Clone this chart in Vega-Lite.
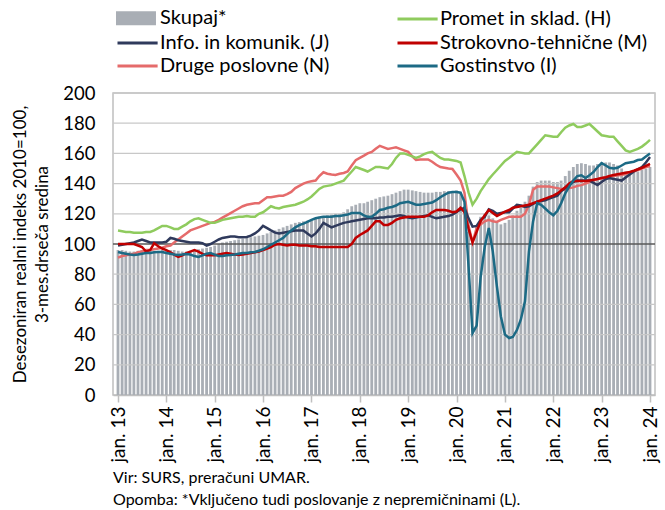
{
"$schema":"https://vega.github.io/schema/vega-lite/v6.json",
"width":542,"height":302,
"autosize":{"type":"none"},
"padding":{"left":113,"top":93,"right":10,"bottom":115},
"background":"white",
"config":{"font":"Lato","view":{"stroke":"#bfbfbf","strokeWidth":1.5}},
"title":{"text":["Vir: SURS, preračuni UMAR.","Opomba: *Vključeno tudi poslovanje z nepremičninami (L)."],"orient":"bottom","anchor":"start","fontSize":16,"fontWeight":"normal","color":"#000000","offset":8,"lineHeight":22,"frame":"group"},
"datasets":{
"mreza":[{"v":20},{"v":40},{"v":60},{"v":80},{"v":120},{"v":140},{"v":160},{"v":180},{"v":200}],
"skupaj":[
{"t":"2013-01","v":96},{"t":"2013-02","v":96},{"t":"2013-03","v":95.5},{"t":"2013-04","v":95},{"t":"2013-05","v":95},{"t":"2013-06","v":95.5},{"t":"2013-07","v":96},{"t":"2013-08","v":96},{"t":"2013-09","v":95.5},{"t":"2013-10","v":95},{"t":"2013-11","v":95.5},{"t":"2013-12","v":96},
{"t":"2014-01","v":96},{"t":"2014-02","v":96},{"t":"2014-03","v":96},{"t":"2014-04","v":95.5},{"t":"2014-05","v":95},{"t":"2014-06","v":95},{"t":"2014-07","v":95.5},{"t":"2014-08","v":96},{"t":"2014-09","v":96.5},{"t":"2014-10","v":97},{"t":"2014-11","v":97.5},{"t":"2014-12","v":98},
{"t":"2015-01","v":99},{"t":"2015-02","v":100},{"t":"2015-03","v":101},{"t":"2015-04","v":101.5},{"t":"2015-05","v":102},{"t":"2015-06","v":102.5},{"t":"2015-07","v":103},{"t":"2015-08","v":103.5},{"t":"2015-09","v":104},{"t":"2015-10","v":104.5},{"t":"2015-11","v":105},{"t":"2015-12","v":105.5},
{"t":"2016-01","v":106},{"t":"2016-02","v":107},{"t":"2016-03","v":108},{"t":"2016-04","v":109},{"t":"2016-05","v":110},{"t":"2016-06","v":111},{"t":"2016-07","v":112},{"t":"2016-08","v":113},{"t":"2016-09","v":114},{"t":"2016-10","v":114.5},{"t":"2016-11","v":115},{"t":"2016-12","v":115.5},
{"t":"2017-01","v":116},{"t":"2017-02","v":117},{"t":"2017-03","v":118},{"t":"2017-04","v":118.5},{"t":"2017-05","v":119},{"t":"2017-06","v":119.5},{"t":"2017-07","v":120},{"t":"2017-08","v":120},{"t":"2017-09","v":121},{"t":"2017-10","v":123},{"t":"2017-11","v":125},{"t":"2017-12","v":126},
{"t":"2018-01","v":127},{"t":"2018-02","v":127},{"t":"2018-03","v":128},{"t":"2018-04","v":129},{"t":"2018-05","v":130},{"t":"2018-06","v":131},{"t":"2018-07","v":131.5},{"t":"2018-08","v":132},{"t":"2018-09","v":133},{"t":"2018-10","v":134},{"t":"2018-11","v":135},{"t":"2018-12","v":136},
{"t":"2019-01","v":136},{"t":"2019-02","v":135.5},{"t":"2019-03","v":135},{"t":"2019-04","v":134.5},{"t":"2019-05","v":134},{"t":"2019-06","v":134},{"t":"2019-07","v":134},{"t":"2019-08","v":134.5},{"t":"2019-09","v":134.5},{"t":"2019-10","v":135},{"t":"2019-11","v":135},{"t":"2019-12","v":135},
{"t":"2020-01","v":135.5},{"t":"2020-02","v":134},{"t":"2020-03","v":125},{"t":"2020-04","v":108},{"t":"2020-05","v":104},{"t":"2020-06","v":112},{"t":"2020-07","v":118},{"t":"2020-08","v":120},{"t":"2020-09","v":119},{"t":"2020-10","v":117},{"t":"2020-11","v":114},{"t":"2020-12","v":113},
{"t":"2021-01","v":114},{"t":"2021-02","v":116},{"t":"2021-03","v":119},{"t":"2021-04","v":122},{"t":"2021-05","v":124},{"t":"2021-06","v":128},{"t":"2021-07","v":132},{"t":"2021-08","v":138},{"t":"2021-09","v":141},{"t":"2021-10","v":142},{"t":"2021-11","v":142},{"t":"2021-12","v":142},
{"t":"2022-01","v":141},{"t":"2022-02","v":141},{"t":"2022-03","v":142},{"t":"2022-04","v":145},{"t":"2022-05","v":148.5},{"t":"2022-06","v":151},{"t":"2022-07","v":153},{"t":"2022-08","v":153.5},{"t":"2022-09","v":153},{"t":"2022-10","v":152},{"t":"2022-11","v":152},{"t":"2022-12","v":153},
{"t":"2023-01","v":154},{"t":"2023-02","v":154},{"t":"2023-03","v":154},{"t":"2023-04","v":153},{"t":"2023-05","v":152},{"t":"2023-06","v":150},{"t":"2023-07","v":148},{"t":"2023-08","v":148},{"t":"2023-09","v":147.5},{"t":"2023-10","v":148},{"t":"2023-11","v":149},{"t":"2023-12","v":150},
{"t":"2024-01","v":151}
],
"panoge":[
{"t":"2013-01","s":"N","v":91},{"t":"2013-02","s":"N","v":92},{"t":"2013-03","s":"N","v":92.5},{"t":"2013-04","s":"N","v":93},{"t":"2013-05","s":"N","v":93.5},{"t":"2013-06","s":"N","v":94.5},{"t":"2013-07","s":"N","v":95},{"t":"2013-08","s":"N","v":96},{"t":"2013-09","s":"N","v":96},{"t":"2013-10","s":"N","v":96.5},{"t":"2013-11","s":"N","v":97},{"t":"2013-12","s":"N","v":97.5},
{"t":"2014-01","s":"N","v":98.5},{"t":"2014-02","s":"N","v":99},{"t":"2014-03","s":"N","v":101},{"t":"2014-04","s":"N","v":103},{"t":"2014-05","s":"N","v":105},{"t":"2014-06","s":"N","v":107},{"t":"2014-07","s":"N","v":109},{"t":"2014-08","s":"N","v":110},{"t":"2014-09","s":"N","v":111},{"t":"2014-10","s":"N","v":112},{"t":"2014-11","s":"N","v":113},{"t":"2014-12","s":"N","v":114},
{"t":"2015-01","s":"N","v":114.6},{"t":"2015-02","s":"N","v":116},{"t":"2015-03","s":"N","v":117.5},{"t":"2015-04","s":"N","v":119},{"t":"2015-05","s":"N","v":120.5},{"t":"2015-06","s":"N","v":122},{"t":"2015-07","s":"N","v":123.5},{"t":"2015-08","s":"N","v":125},{"t":"2015-09","s":"N","v":126},{"t":"2015-10","s":"N","v":126.5},{"t":"2015-11","s":"N","v":127},{"t":"2015-12","s":"N","v":127},
{"t":"2016-01","s":"N","v":129},{"t":"2016-02","s":"N","v":131},{"t":"2016-03","s":"N","v":131},{"t":"2016-04","s":"N","v":131.5},{"t":"2016-05","s":"N","v":132},{"t":"2016-06","s":"N","v":132},{"t":"2016-07","s":"N","v":133},{"t":"2016-08","s":"N","v":134.5},{"t":"2016-09","s":"N","v":137},{"t":"2016-10","s":"N","v":138.5},{"t":"2016-11","s":"N","v":140},{"t":"2016-12","s":"N","v":141},
{"t":"2017-01","s":"N","v":141.5},{"t":"2017-02","s":"N","v":142},{"t":"2017-03","s":"N","v":145},{"t":"2017-04","s":"N","v":147.5},{"t":"2017-05","s":"N","v":146.5},{"t":"2017-06","s":"N","v":146},{"t":"2017-07","s":"N","v":145.7},{"t":"2017-08","s":"N","v":146.5},{"t":"2017-09","s":"N","v":147},{"t":"2017-10","s":"N","v":148},{"t":"2017-11","s":"N","v":152},{"t":"2017-12","s":"N","v":155.5},
{"t":"2018-01","s":"N","v":157},{"t":"2018-02","s":"N","v":158.5},{"t":"2018-03","s":"N","v":160},{"t":"2018-04","s":"N","v":161},{"t":"2018-05","s":"N","v":163},{"t":"2018-06","s":"N","v":165},{"t":"2018-07","s":"N","v":164},{"t":"2018-08","s":"N","v":163},{"t":"2018-09","s":"N","v":163.5},{"t":"2018-10","s":"N","v":164},{"t":"2018-11","s":"N","v":163},{"t":"2018-12","s":"N","v":162},
{"t":"2019-01","s":"N","v":161},{"t":"2019-02","s":"N","v":158},{"t":"2019-03","s":"N","v":155.6},{"t":"2019-04","s":"N","v":156},{"t":"2019-05","s":"N","v":156},{"t":"2019-06","s":"N","v":156},{"t":"2019-07","s":"N","v":154.5},{"t":"2019-08","s":"N","v":152.5},{"t":"2019-09","s":"N","v":151},{"t":"2019-10","s":"N","v":150.5},{"t":"2019-11","s":"N","v":150},{"t":"2019-12","s":"N","v":149.7},
{"t":"2020-01","s":"N","v":146},{"t":"2020-02","s":"N","v":142},{"t":"2020-03","s":"N","v":134},{"t":"2020-04","s":"N","v":112},{"t":"2020-05","s":"N","v":101},{"t":"2020-06","s":"N","v":110.6},{"t":"2020-07","s":"N","v":113},{"t":"2020-08","s":"N","v":115},{"t":"2020-09","s":"N","v":116},{"t":"2020-10","s":"N","v":115},{"t":"2020-11","s":"N","v":114.6},{"t":"2020-12","s":"N","v":116},
{"t":"2021-01","s":"N","v":117},{"t":"2021-02","s":"N","v":118},{"t":"2021-03","s":"N","v":118},{"t":"2021-04","s":"N","v":118},{"t":"2021-05","s":"N","v":118},{"t":"2021-06","s":"N","v":120},{"t":"2021-07","s":"N","v":126},{"t":"2021-08","s":"N","v":136},{"t":"2021-09","s":"N","v":138},{"t":"2021-10","s":"N","v":138},{"t":"2021-11","s":"N","v":138},{"t":"2021-12","s":"N","v":138},
{"t":"2022-01","s":"N","v":137.5},{"t":"2022-02","s":"N","v":137},{"t":"2022-03","s":"N","v":136.5},{"t":"2022-04","s":"N","v":136},{"t":"2022-05","s":"N","v":137},{"t":"2022-06","s":"N","v":137.5},{"t":"2022-07","s":"N","v":138.5},{"t":"2022-08","s":"N","v":139},{"t":"2022-09","s":"N","v":140},{"t":"2022-10","s":"N","v":141},{"t":"2022-11","s":"N","v":142},{"t":"2022-12","s":"N","v":143},
{"t":"2023-01","s":"N","v":143.5},{"t":"2023-02","s":"N","v":144},{"t":"2023-03","s":"N","v":144.5},{"t":"2023-04","s":"N","v":145},{"t":"2023-05","s":"N","v":145.5},{"t":"2023-06","s":"N","v":145.7},{"t":"2023-07","s":"N","v":146.5},{"t":"2023-08","s":"N","v":147},{"t":"2023-09","s":"N","v":148},{"t":"2023-10","s":"N","v":149},{"t":"2023-11","s":"N","v":150},{"t":"2023-12","s":"N","v":151},
{"t":"2024-01","s":"N","v":151.7},
{"t":"2013-01","s":"H","v":109},{"t":"2013-02","s":"H","v":108.5},{"t":"2013-03","s":"H","v":108},{"t":"2013-04","s":"H","v":108},{"t":"2013-05","s":"H","v":107.5},{"t":"2013-06","s":"H","v":107.5},{"t":"2013-07","s":"H","v":107.5},{"t":"2013-08","s":"H","v":108},{"t":"2013-09","s":"H","v":108},{"t":"2013-10","s":"H","v":109},{"t":"2013-11","s":"H","v":110.5},{"t":"2013-12","s":"H","v":112},
{"t":"2014-01","s":"H","v":112},{"t":"2014-02","s":"H","v":111},{"t":"2014-03","s":"H","v":110},{"t":"2014-04","s":"H","v":110},{"t":"2014-05","s":"H","v":111.5},{"t":"2014-06","s":"H","v":113},{"t":"2014-07","s":"H","v":115},{"t":"2014-08","s":"H","v":116.5},{"t":"2014-09","s":"H","v":117},{"t":"2014-10","s":"H","v":116},{"t":"2014-11","s":"H","v":115},{"t":"2014-12","s":"H","v":114},
{"t":"2015-01","s":"H","v":114},{"t":"2015-02","s":"H","v":115},{"t":"2015-03","s":"H","v":116},{"t":"2015-04","s":"H","v":116.5},{"t":"2015-05","s":"H","v":117},{"t":"2015-06","s":"H","v":117.5},{"t":"2015-07","s":"H","v":118},{"t":"2015-08","s":"H","v":118},{"t":"2015-09","s":"H","v":118.5},{"t":"2015-10","s":"H","v":118},{"t":"2015-11","s":"H","v":118},{"t":"2015-12","s":"H","v":120},
{"t":"2016-01","s":"H","v":121},{"t":"2016-02","s":"H","v":123},{"t":"2016-03","s":"H","v":125},{"t":"2016-04","s":"H","v":124},{"t":"2016-05","s":"H","v":123.5},{"t":"2016-06","s":"H","v":124.5},{"t":"2016-07","s":"H","v":125},{"t":"2016-08","s":"H","v":125.5},{"t":"2016-09","s":"H","v":126},{"t":"2016-10","s":"H","v":127},{"t":"2016-11","s":"H","v":128},{"t":"2016-12","s":"H","v":129.5},
{"t":"2017-01","s":"H","v":131.5},{"t":"2017-02","s":"H","v":134},{"t":"2017-03","s":"H","v":136.5},{"t":"2017-04","s":"H","v":138},{"t":"2017-05","s":"H","v":138.5},{"t":"2017-06","s":"H","v":139},{"t":"2017-07","s":"H","v":140},{"t":"2017-08","s":"H","v":141},{"t":"2017-09","s":"H","v":142},{"t":"2017-10","s":"H","v":145},{"t":"2017-11","s":"H","v":148},{"t":"2017-12","s":"H","v":151},
{"t":"2018-01","s":"H","v":150},{"t":"2018-02","s":"H","v":149},{"t":"2018-03","s":"H","v":148},{"t":"2018-04","s":"H","v":149.5},{"t":"2018-05","s":"H","v":151},{"t":"2018-06","s":"H","v":151},{"t":"2018-07","s":"H","v":150.5},{"t":"2018-08","s":"H","v":150},{"t":"2018-09","s":"H","v":153},{"t":"2018-10","s":"H","v":157},{"t":"2018-11","s":"H","v":160},{"t":"2018-12","s":"H","v":160},
{"t":"2019-01","s":"H","v":159},{"t":"2019-02","s":"H","v":158},{"t":"2019-03","s":"H","v":157},{"t":"2019-04","s":"H","v":158},{"t":"2019-05","s":"H","v":159.5},{"t":"2019-06","s":"H","v":160.5},{"t":"2019-07","s":"H","v":161},{"t":"2019-08","s":"H","v":159},{"t":"2019-09","s":"H","v":157},{"t":"2019-10","s":"H","v":156},{"t":"2019-11","s":"H","v":156},{"t":"2019-12","s":"H","v":155.5},
{"t":"2020-01","s":"H","v":155},{"t":"2020-02","s":"H","v":154},{"t":"2020-03","s":"H","v":145},{"t":"2020-04","s":"H","v":134},{"t":"2020-05","s":"H","v":126},{"t":"2020-06","s":"H","v":130},{"t":"2020-07","s":"H","v":135},{"t":"2020-08","s":"H","v":139},{"t":"2020-09","s":"H","v":143},{"t":"2020-10","s":"H","v":146},{"t":"2020-11","s":"H","v":149},{"t":"2020-12","s":"H","v":152},
{"t":"2021-01","s":"H","v":155},{"t":"2021-02","s":"H","v":157},{"t":"2021-03","s":"H","v":159},{"t":"2021-04","s":"H","v":161},{"t":"2021-05","s":"H","v":160.5},{"t":"2021-06","s":"H","v":160},{"t":"2021-07","s":"H","v":160},{"t":"2021-08","s":"H","v":163},{"t":"2021-09","s":"H","v":166},{"t":"2021-10","s":"H","v":169},{"t":"2021-11","s":"H","v":172},{"t":"2021-12","s":"H","v":171.5},
{"t":"2022-01","s":"H","v":171},{"t":"2022-02","s":"H","v":171},{"t":"2022-03","s":"H","v":174},{"t":"2022-04","s":"H","v":177},{"t":"2022-05","s":"H","v":178.5},{"t":"2022-06","s":"H","v":179.5},{"t":"2022-07","s":"H","v":177.5},{"t":"2022-08","s":"H","v":177.5},{"t":"2022-09","s":"H","v":178.5},{"t":"2022-10","s":"H","v":179.5},{"t":"2022-11","s":"H","v":177},{"t":"2022-12","s":"H","v":174.5},
{"t":"2023-01","s":"H","v":172},{"t":"2023-02","s":"H","v":171.5},{"t":"2023-03","s":"H","v":171},{"t":"2023-04","s":"H","v":171},{"t":"2023-05","s":"H","v":168},{"t":"2023-06","s":"H","v":165},{"t":"2023-07","s":"H","v":162},{"t":"2023-08","s":"H","v":161},{"t":"2023-09","s":"H","v":162},{"t":"2023-10","s":"H","v":163},{"t":"2023-11","s":"H","v":164.5},{"t":"2023-12","s":"H","v":166.5},
{"t":"2024-01","s":"H","v":169},
{"t":"2013-01","s":"J","v":99},{"t":"2013-02","s":"J","v":99.5},{"t":"2013-03","s":"J","v":100},{"t":"2013-04","s":"J","v":100.5},{"t":"2013-05","s":"J","v":101},{"t":"2013-06","s":"J","v":102},{"t":"2013-07","s":"J","v":103},{"t":"2013-08","s":"J","v":102},{"t":"2013-09","s":"J","v":101},{"t":"2013-10","s":"J","v":101},{"t":"2013-11","s":"J","v":101},{"t":"2013-12","s":"J","v":101},
{"t":"2014-01","s":"J","v":101.5},{"t":"2014-02","s":"J","v":104},{"t":"2014-03","s":"J","v":103.5},{"t":"2014-04","s":"J","v":102.5},{"t":"2014-05","s":"J","v":102},{"t":"2014-06","s":"J","v":101.5},{"t":"2014-07","s":"J","v":101},{"t":"2014-08","s":"J","v":101},{"t":"2014-09","s":"J","v":101},{"t":"2014-10","s":"J","v":100.5},{"t":"2014-11","s":"J","v":99},{"t":"2014-12","s":"J","v":100},
{"t":"2015-01","s":"J","v":101.5},{"t":"2015-02","s":"J","v":103},{"t":"2015-03","s":"J","v":104},{"t":"2015-04","s":"J","v":104.5},{"t":"2015-05","s":"J","v":105},{"t":"2015-06","s":"J","v":105},{"t":"2015-07","s":"J","v":104.5},{"t":"2015-08","s":"J","v":104.5},{"t":"2015-09","s":"J","v":104.6},{"t":"2015-10","s":"J","v":105.5},{"t":"2015-11","s":"J","v":107},{"t":"2015-12","s":"J","v":109},
{"t":"2016-01","s":"J","v":112},{"t":"2016-02","s":"J","v":110.5},{"t":"2016-03","s":"J","v":109},{"t":"2016-04","s":"J","v":107.5},{"t":"2016-05","s":"J","v":107},{"t":"2016-06","s":"J","v":107.5},{"t":"2016-07","s":"J","v":108},{"t":"2016-08","s":"J","v":108.5},{"t":"2016-09","s":"J","v":109},{"t":"2016-10","s":"J","v":109},{"t":"2016-11","s":"J","v":109},{"t":"2016-12","s":"J","v":107},
{"t":"2017-01","s":"J","v":105},{"t":"2017-02","s":"J","v":107},{"t":"2017-03","s":"J","v":110},{"t":"2017-04","s":"J","v":114},{"t":"2017-05","s":"J","v":112.5},{"t":"2017-06","s":"J","v":111},{"t":"2017-07","s":"J","v":112},{"t":"2017-08","s":"J","v":113},{"t":"2017-09","s":"J","v":114},{"t":"2017-10","s":"J","v":114.5},{"t":"2017-11","s":"J","v":115},{"t":"2017-12","s":"J","v":115.5},
{"t":"2018-01","s":"J","v":116},{"t":"2018-02","s":"J","v":116.5},{"t":"2018-03","s":"J","v":117},{"t":"2018-04","s":"J","v":117},{"t":"2018-05","s":"J","v":117},{"t":"2018-06","s":"J","v":117.5},{"t":"2018-07","s":"J","v":117.5},{"t":"2018-08","s":"J","v":118},{"t":"2018-09","s":"J","v":118},{"t":"2018-10","s":"J","v":118.5},{"t":"2018-11","s":"J","v":119},{"t":"2018-12","s":"J","v":118.5},
{"t":"2019-01","s":"J","v":117.5},{"t":"2019-02","s":"J","v":117},{"t":"2019-03","s":"J","v":117.5},{"t":"2019-04","s":"J","v":118},{"t":"2019-05","s":"J","v":118.5},{"t":"2019-06","s":"J","v":119},{"t":"2019-07","s":"J","v":118},{"t":"2019-08","s":"J","v":117},{"t":"2019-09","s":"J","v":117.5},{"t":"2019-10","s":"J","v":118},{"t":"2019-11","s":"J","v":118.5},{"t":"2019-12","s":"J","v":119.5},
{"t":"2020-01","s":"J","v":121},{"t":"2020-02","s":"J","v":123},{"t":"2020-03","s":"J","v":124},{"t":"2020-04","s":"J","v":117},{"t":"2020-05","s":"J","v":111.5},{"t":"2020-06","s":"J","v":112},{"t":"2020-07","s":"J","v":116},{"t":"2020-08","s":"J","v":118},{"t":"2020-09","s":"J","v":123},{"t":"2020-10","s":"J","v":122},{"t":"2020-11","s":"J","v":120},{"t":"2020-12","s":"J","v":120.5},
{"t":"2021-01","s":"J","v":121},{"t":"2021-02","s":"J","v":121},{"t":"2021-03","s":"J","v":123.5},{"t":"2021-04","s":"J","v":126},{"t":"2021-05","s":"J","v":125.5},{"t":"2021-06","s":"J","v":124.5},{"t":"2021-07","s":"J","v":125},{"t":"2021-08","s":"J","v":126.5},{"t":"2021-09","s":"J","v":128},{"t":"2021-10","s":"J","v":128.5},{"t":"2021-11","s":"J","v":129},{"t":"2021-12","s":"J","v":130},
{"t":"2022-01","s":"J","v":131},{"t":"2022-02","s":"J","v":132},{"t":"2022-03","s":"J","v":135},{"t":"2022-04","s":"J","v":137},{"t":"2022-05","s":"J","v":139},{"t":"2022-06","s":"J","v":141},{"t":"2022-07","s":"J","v":142},{"t":"2022-08","s":"J","v":142},{"t":"2022-09","s":"J","v":142},{"t":"2022-10","s":"J","v":142},{"t":"2022-11","s":"J","v":140.5},{"t":"2022-12","s":"J","v":139},
{"t":"2023-01","s":"J","v":141},{"t":"2023-02","s":"J","v":143},{"t":"2023-03","s":"J","v":143.7},{"t":"2023-04","s":"J","v":143},{"t":"2023-05","s":"J","v":142.5},{"t":"2023-06","s":"J","v":142},{"t":"2023-07","s":"J","v":144},{"t":"2023-08","s":"J","v":146},{"t":"2023-09","s":"J","v":148},{"t":"2023-10","s":"J","v":149.5},{"t":"2023-11","s":"J","v":151},{"t":"2023-12","s":"J","v":154},
{"t":"2024-01","s":"J","v":157.6},
{"t":"2013-01","s":"M","v":100},{"t":"2013-02","s":"M","v":100},{"t":"2013-03","s":"M","v":100},{"t":"2013-04","s":"M","v":100},{"t":"2013-05","s":"M","v":100},{"t":"2013-06","s":"M","v":99},{"t":"2013-07","s":"M","v":98},{"t":"2013-08","s":"M","v":95},{"t":"2013-09","s":"M","v":96},{"t":"2013-10","s":"M","v":100.5},{"t":"2013-11","s":"M","v":98.5},{"t":"2013-12","s":"M","v":97},
{"t":"2014-01","s":"M","v":96},{"t":"2014-02","s":"M","v":94.5},{"t":"2014-03","s":"M","v":93},{"t":"2014-04","s":"M","v":91.5},{"t":"2014-05","s":"M","v":92.5},{"t":"2014-06","s":"M","v":94},{"t":"2014-07","s":"M","v":95},{"t":"2014-08","s":"M","v":96},{"t":"2014-09","s":"M","v":95},{"t":"2014-10","s":"M","v":93.5},{"t":"2014-11","s":"M","v":92.5},{"t":"2014-12","s":"M","v":92.5},
{"t":"2015-01","s":"M","v":92.5},{"t":"2015-02","s":"M","v":93},{"t":"2015-03","s":"M","v":93.5},{"t":"2015-04","s":"M","v":94},{"t":"2015-05","s":"M","v":93.5},{"t":"2015-06","s":"M","v":93},{"t":"2015-07","s":"M","v":92.7},{"t":"2015-08","s":"M","v":93},{"t":"2015-09","s":"M","v":93.5},{"t":"2015-10","s":"M","v":94},{"t":"2015-11","s":"M","v":94.5},{"t":"2015-12","s":"M","v":95},
{"t":"2016-01","s":"M","v":96},{"t":"2016-02","s":"M","v":97},{"t":"2016-03","s":"M","v":98},{"t":"2016-04","s":"M","v":99.5},{"t":"2016-05","s":"M","v":100},{"t":"2016-06","s":"M","v":99.5},{"t":"2016-07","s":"M","v":99},{"t":"2016-08","s":"M","v":99.5},{"t":"2016-09","s":"M","v":99.5},{"t":"2016-10","s":"M","v":99},{"t":"2016-11","s":"M","v":99},{"t":"2016-12","s":"M","v":99},
{"t":"2017-01","s":"M","v":98.5},{"t":"2017-02","s":"M","v":98.5},{"t":"2017-03","s":"M","v":98},{"t":"2017-04","s":"M","v":98},{"t":"2017-05","s":"M","v":98},{"t":"2017-06","s":"M","v":98},{"t":"2017-07","s":"M","v":98},{"t":"2017-08","s":"M","v":98},{"t":"2017-09","s":"M","v":98},{"t":"2017-10","s":"M","v":98},{"t":"2017-11","s":"M","v":100},{"t":"2017-12","s":"M","v":104},
{"t":"2018-01","s":"M","v":106},{"t":"2018-02","s":"M","v":107.5},{"t":"2018-03","s":"M","v":109},{"t":"2018-04","s":"M","v":112},{"t":"2018-05","s":"M","v":115},{"t":"2018-06","s":"M","v":115},{"t":"2018-07","s":"M","v":112.6},{"t":"2018-08","s":"M","v":112.6},{"t":"2018-09","s":"M","v":114},{"t":"2018-10","s":"M","v":116},{"t":"2018-11","s":"M","v":117},{"t":"2018-12","s":"M","v":117.5},
{"t":"2019-01","s":"M","v":118},{"t":"2019-02","s":"M","v":118},{"t":"2019-03","s":"M","v":118},{"t":"2019-04","s":"M","v":118},{"t":"2019-05","s":"M","v":118},{"t":"2019-06","s":"M","v":119},{"t":"2019-07","s":"M","v":121},{"t":"2019-08","s":"M","v":122.5},{"t":"2019-09","s":"M","v":122.5},{"t":"2019-10","s":"M","v":122.5},{"t":"2019-11","s":"M","v":122},{"t":"2019-12","s":"M","v":121},
{"t":"2020-01","s":"M","v":121.5},{"t":"2020-02","s":"M","v":124},{"t":"2020-03","s":"M","v":121},{"t":"2020-04","s":"M","v":110},{"t":"2020-05","s":"M","v":101},{"t":"2020-06","s":"M","v":108},{"t":"2020-07","s":"M","v":115},{"t":"2020-08","s":"M","v":119},{"t":"2020-09","s":"M","v":122.5},{"t":"2020-10","s":"M","v":120.5},{"t":"2020-11","s":"M","v":118.5},{"t":"2020-12","s":"M","v":120},
{"t":"2021-01","s":"M","v":121.5},{"t":"2021-02","s":"M","v":122.5},{"t":"2021-03","s":"M","v":124},{"t":"2021-04","s":"M","v":124.5},{"t":"2021-05","s":"M","v":125},{"t":"2021-06","s":"M","v":125.5},{"t":"2021-07","s":"M","v":126},{"t":"2021-08","s":"M","v":127},{"t":"2021-09","s":"M","v":128},{"t":"2021-10","s":"M","v":129},{"t":"2021-11","s":"M","v":130},{"t":"2021-12","s":"M","v":131},
{"t":"2022-01","s":"M","v":132},{"t":"2022-02","s":"M","v":133.5},{"t":"2022-03","s":"M","v":135.5},{"t":"2022-04","s":"M","v":137.5},{"t":"2022-05","s":"M","v":140},{"t":"2022-06","s":"M","v":141.7},{"t":"2022-07","s":"M","v":141.7},{"t":"2022-08","s":"M","v":141.7},{"t":"2022-09","s":"M","v":141.7},{"t":"2022-10","s":"M","v":142},{"t":"2022-11","s":"M","v":142.5},{"t":"2022-12","s":"M","v":143},
{"t":"2023-01","s":"M","v":143.7},{"t":"2023-02","s":"M","v":144.2},{"t":"2023-03","s":"M","v":145},{"t":"2023-04","s":"M","v":145.7},{"t":"2023-05","s":"M","v":146.2},{"t":"2023-06","s":"M","v":146.7},{"t":"2023-07","s":"M","v":147.2},{"t":"2023-08","s":"M","v":147.7},{"t":"2023-09","s":"M","v":148.5},{"t":"2023-10","s":"M","v":149.5},{"t":"2023-11","s":"M","v":150.5},{"t":"2023-12","s":"M","v":151.7},
{"t":"2024-01","s":"M","v":153},
{"t":"2013-01","s":"I","v":94.7},{"t":"2013-02","s":"I","v":94},{"t":"2013-03","s":"I","v":93.5},{"t":"2013-04","s":"I","v":93},{"t":"2013-05","s":"I","v":92.7},{"t":"2013-06","s":"I","v":93},{"t":"2013-07","s":"I","v":93.5},{"t":"2013-08","s":"I","v":94},{"t":"2013-09","s":"I","v":94},{"t":"2013-10","s":"I","v":94.5},{"t":"2013-11","s":"I","v":94.7},{"t":"2013-12","s":"I","v":94.7},
{"t":"2014-01","s":"I","v":94},{"t":"2014-02","s":"I","v":93.5},{"t":"2014-03","s":"I","v":93},{"t":"2014-04","s":"I","v":92.7},{"t":"2014-05","s":"I","v":93},{"t":"2014-06","s":"I","v":93.4},{"t":"2014-07","s":"I","v":93},{"t":"2014-08","s":"I","v":92},{"t":"2014-09","s":"I","v":91.4},{"t":"2014-10","s":"I","v":92.5},{"t":"2014-11","s":"I","v":93.5},{"t":"2014-12","s":"I","v":94},
{"t":"2015-01","s":"I","v":93},{"t":"2015-02","s":"I","v":92},{"t":"2015-03","s":"I","v":92},{"t":"2015-04","s":"I","v":92.5},{"t":"2015-05","s":"I","v":92.7},{"t":"2015-06","s":"I","v":93},{"t":"2015-07","s":"I","v":93.5},{"t":"2015-08","s":"I","v":94},{"t":"2015-09","s":"I","v":94},{"t":"2015-10","s":"I","v":94.5},{"t":"2015-11","s":"I","v":94.7},{"t":"2015-12","s":"I","v":95.5},
{"t":"2016-01","s":"I","v":96.5},{"t":"2016-02","s":"I","v":98},{"t":"2016-03","s":"I","v":99.5},{"t":"2016-04","s":"I","v":101},{"t":"2016-05","s":"I","v":102.5},{"t":"2016-06","s":"I","v":104},{"t":"2016-07","s":"I","v":106.5},{"t":"2016-08","s":"I","v":109},{"t":"2016-09","s":"I","v":111},{"t":"2016-10","s":"I","v":112.5},{"t":"2016-11","s":"I","v":113.5},{"t":"2016-12","s":"I","v":114.6},
{"t":"2017-01","s":"I","v":116},{"t":"2017-02","s":"I","v":117},{"t":"2017-03","s":"I","v":117.5},{"t":"2017-04","s":"I","v":118},{"t":"2017-05","s":"I","v":118},{"t":"2017-06","s":"I","v":118},{"t":"2017-07","s":"I","v":118.5},{"t":"2017-08","s":"I","v":118.5},{"t":"2017-09","s":"I","v":119},{"t":"2017-10","s":"I","v":119.5},{"t":"2017-11","s":"I","v":120.5},{"t":"2017-12","s":"I","v":120.5},
{"t":"2018-01","s":"I","v":120.5},{"t":"2018-02","s":"I","v":119},{"t":"2018-03","s":"I","v":118},{"t":"2018-04","s":"I","v":118},{"t":"2018-05","s":"I","v":120},{"t":"2018-06","s":"I","v":122.5},{"t":"2018-07","s":"I","v":123},{"t":"2018-08","s":"I","v":124},{"t":"2018-09","s":"I","v":124.5},{"t":"2018-10","s":"I","v":125.5},{"t":"2018-11","s":"I","v":127},{"t":"2018-12","s":"I","v":127.5},
{"t":"2019-01","s":"I","v":128},{"t":"2019-02","s":"I","v":127},{"t":"2019-03","s":"I","v":126},{"t":"2019-04","s":"I","v":126},{"t":"2019-05","s":"I","v":126.5},{"t":"2019-06","s":"I","v":127},{"t":"2019-07","s":"I","v":127.5},{"t":"2019-08","s":"I","v":129},{"t":"2019-09","s":"I","v":131},{"t":"2019-10","s":"I","v":132.5},{"t":"2019-11","s":"I","v":134},{"t":"2019-12","s":"I","v":134.4},
{"t":"2020-01","s":"I","v":134.4},{"t":"2020-02","s":"I","v":134},{"t":"2020-03","s":"I","v":128},{"t":"2020-04","s":"I","v":85},{"t":"2020-05","s":"I","v":41},{"t":"2020-06","s":"I","v":46},{"t":"2020-07","s":"I","v":78},{"t":"2020-08","s":"I","v":98},{"t":"2020-09","s":"I","v":110.6},{"t":"2020-10","s":"I","v":95},{"t":"2020-11","s":"I","v":72},{"t":"2020-12","s":"I","v":52},
{"t":"2021-01","s":"I","v":40},{"t":"2021-02","s":"I","v":37.7},{"t":"2021-03","s":"I","v":38.4},{"t":"2021-04","s":"I","v":43},{"t":"2021-05","s":"I","v":50},{"t":"2021-06","s":"I","v":62},{"t":"2021-07","s":"I","v":95},{"t":"2021-08","s":"I","v":115},{"t":"2021-09","s":"I","v":127},{"t":"2021-10","s":"I","v":126},{"t":"2021-11","s":"I","v":123.5},{"t":"2021-12","s":"I","v":121},
{"t":"2022-01","s":"I","v":119},{"t":"2022-02","s":"I","v":122},{"t":"2022-03","s":"I","v":127},{"t":"2022-04","s":"I","v":133.5},{"t":"2022-05","s":"I","v":138},{"t":"2022-06","s":"I","v":142},{"t":"2022-07","s":"I","v":145},{"t":"2022-08","s":"I","v":145.5},{"t":"2022-09","s":"I","v":143.7},{"t":"2022-10","s":"I","v":145.5},{"t":"2022-11","s":"I","v":147.7},{"t":"2022-12","s":"I","v":151},
{"t":"2023-01","s":"I","v":153.6},{"t":"2023-02","s":"I","v":152},{"t":"2023-03","s":"I","v":150.5},{"t":"2023-04","s":"I","v":150},{"t":"2023-05","s":"I","v":150.5},{"t":"2023-06","s":"I","v":152},{"t":"2023-07","s":"I","v":153.5},{"t":"2023-08","s":"I","v":154},{"t":"2023-09","s":"I","v":154.5},{"t":"2023-10","s":"I","v":155.6},{"t":"2023-11","s":"I","v":156},{"t":"2023-12","s":"I","v":158},
{"t":"2024-01","s":"I","v":160}
]
},
"encoding":{
"y":{"field":"v","type":"quantitative","scale":{"domain":[0,200],"nice":false},
"axis":{"values":[0,20,40,60,80,100,120,140,160,180,200],"grid":false,"ticks":false,"domain":false,"labelPadding":18,"labelFontSize":18.5,"labelColor":"#000000","title":["Desezoniran realni indeks 2010=100,","3-mes.drseča sredina"],"titleFontSize":17,"titleFontWeight":"normal","titleColor":"#000000","titlePadding":11,"titleLineHeight":22}}
},
"layer":[
{"data":{"name":"skupaj"},"mark":{"type":"bar","width":2.8,"clip":true},
"encoding":{
"x":{"field":"t","type":"temporal","scale":{"domain":[{"year":2013,"month":1,"date":1},{"year":2024,"month":1,"date":1}],"nice":false},
"axis":{"tickCount":{"interval":"year","step":1},"labelExpr":"'jan. ' + timeFormat(datum.value, '%y')","labelAngle":-90,"labelFontSize":19,"labelColor":"#000000","labelPadding":4,"labelOverlap":false,"labelFlush":false,"grid":false,"domainColor":"#bfbfbf","domainWidth":1.5,"tickColor":"#bfbfbf","tickWidth":1.5,"tickSize":7,"title":null}},
"color":{"datum":"S","type":"nominal","scale":{"domain":["S","H","J","M","N","I"],"range":["#a9aeb5","#8fcb5e","#2f3a5c","#c00000","#e56b6b","#1c6a85"]},
"legend":{"title":null,"orient":"none","legendX":15.5,"legendY":-85,"columns":2,"direction":"horizontal","columnPadding":62,"rowPadding":3,"padding":0,"symbolSize":225,"symbolStrokeWidth":3,"labelFontSize":20,"labelColor":"#000000","labelOffset":11.5,"labelLimit":400,
"labelExpr":"datum.value == 'S' ? 'Skupaj*' : datum.value == 'H' ? 'Promet in sklad. (H)' : datum.value == 'J' ? 'Info. in komunik. (J)' : datum.value == 'M' ? 'Strokovno-tehnične (M)' : datum.value == 'N' ? 'Druge poslovne (N)' : 'Gostinstvo (I)'",
"encode":{"symbols":{"update":{
"shape":{"signal":"datum.value == 'S' ? 'M-2.8,-0.73H2.13V0.73H-2.8Z' : 'M-2.8,0H2.55'"},
"fill":{"signal":"datum.value == 'S' ? '#a9aeb5' : 'transparent'"},
"stroke":{"signal":"datum.value == 'S' ? 'transparent' : datum.value == 'H' ? '#8fcb5e' : datum.value == 'J' ? '#2f3a5c' : datum.value == 'M' ? '#c00000' : datum.value == 'N' ? '#e56b6b' : '#1c6a85'"},
"strokeWidth":{"value":3},"opacity":{"value":1}}}}}}
}},
{"data":{"name":"mreza"},"mark":{"type":"rule","color":"#c8c8c8","strokeWidth":1.3},"encoding":{}},
{"data":{"values":[{"v":100}]},"mark":{"type":"rule","color":"#595959","strokeWidth":1.5},"encoding":{}},
{"data":{"name":"panoge"},"mark":{"type":"line","strokeWidth":2.5,"clip":true},
"encoding":{
"x":{"field":"t","type":"temporal"},
"color":{"field":"s","type":"nominal","legend":{"title":null}}
}}
]
}
